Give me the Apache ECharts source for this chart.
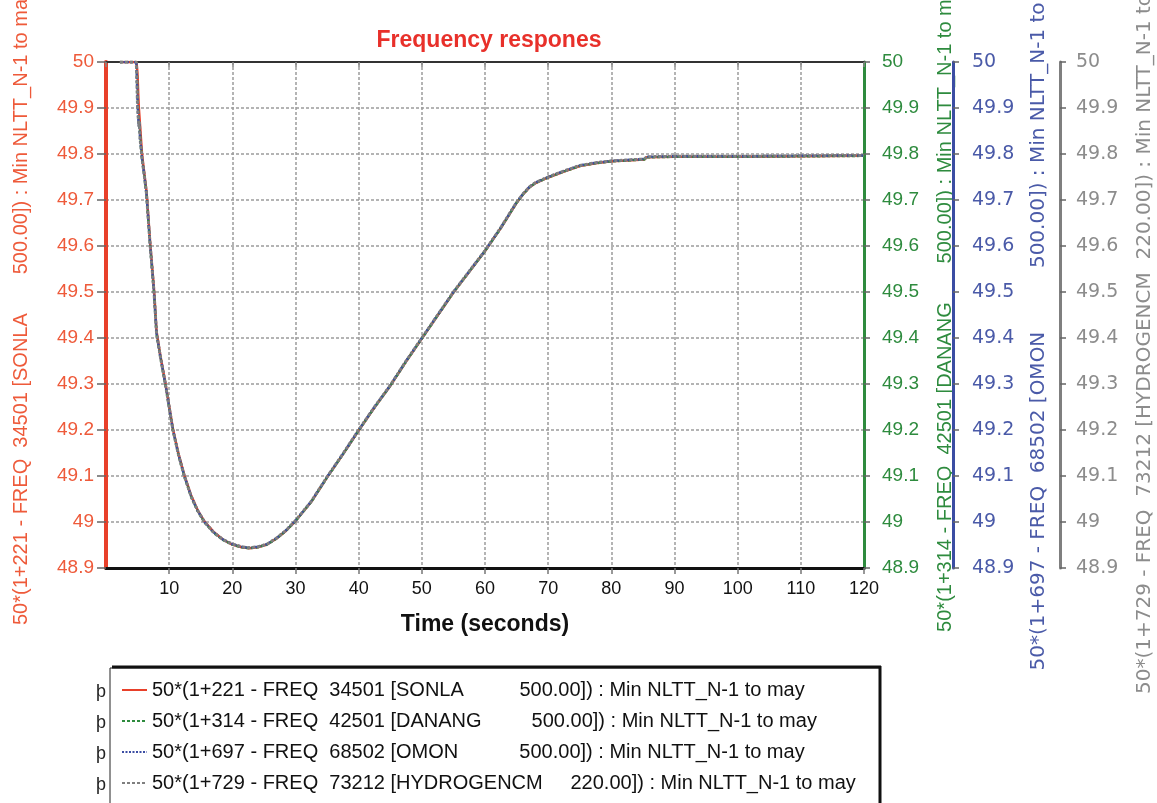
<!DOCTYPE html>
<html>
<head>
<meta charset="utf-8">
<script src="https://cdn.jsdelivr.net/npm/echarts@6/dist/echarts.min.js"></script>
<style>html,body{margin:0;padding:0;background:#fff}#c{width:1157px;height:803px}</style>
</head>
<body>
<div id="c"></div>
<script>
// ---- data ----
var titleText = 'Frequency respones';
var xAxisName = 'Time (seconds)';
var seriesNames = [
  '50*(1+221 - FREQ  34501 [SONLA          500.00]) : Min NLTT_N-1 to may',
  '50*(1+314 - FREQ  42501 [DANANG         500.00]) : Min NLTT_N-1 to may',
  '50*(1+697 - FREQ  68502 [OMON           500.00]) : Min NLTT_N-1 to may',
  '50*(1+729 - FREQ  73212 [HYDROGENCM     220.00]) : Min NLTT_N-1 to may'
];
var axisNames = [
  '50*(1+221 - FREQ  34501 [SONLA       500.00]) : Min NLTT_N-1 to may',
  '50*(1+314 - FREQ  42501 [DANANG       500.00]) : Min NLTT_N-1 to may',
  '50*(1+697 - FREQ  68502 [OMON          500.00]) : Min NLTT_N-1 to may',
  '50*(1+729 - FREQ  73212 [HYDROGENCM  220.00]) : Min NLTT_N-1 to may'
];
var timeSec = [2.2, 4.8, 4.9, 5.0, 5.1, 5.2, 5.3, 5.4, 5.5, 5.7, 6.0, 6.4, 7.0, 7.6, 8.0, 8.6, 9.4, 10.6, 11.5, 12.4, 13.5, 14.5, 15.6, 17.0, 18.5, 20.0, 21.5, 22.7, 24.0, 25.5, 27.0, 28.5, 30.0, 32.5, 35.0, 37.5, 40.0, 42.5, 45.0, 47.5, 50.0, 52.5, 55.0, 57.5, 60.0, 62.5, 65.0, 66.0, 67.0, 68.0, 70.0, 72.5, 75.0, 77.5, 80.0, 82.5, 85.2, 85.6, 90.0, 100.0, 110.0, 120.0];
var freqSonla = [50, 50, 49.99, 49.97, 49.93, 49.90, 49.88, 49.86, 49.84, 49.80, 49.765, 49.72, 49.605, 49.505, 49.415, 49.362, 49.302, 49.202, 49.147, 49.102, 49.057, 49.026, 49.001, 48.979, 48.962, 48.951, 48.945, 48.943, 48.945, 48.951, 48.964, 48.981, 49.002, 49.044, 49.097, 49.147, 49.199, 49.249, 49.296, 49.349, 49.399, 49.449, 49.499, 49.544, 49.589, 49.639, 49.694, 49.712, 49.727, 49.737, 49.749, 49.762, 49.774, 49.780, 49.784, 49.786, 49.788, 49.793, 49.794, 49.794, 49.795, 49.796];
var freqDanang = [50, 50, 49.97, 49.92, 49.89, 49.87, 49.87, 49.84, 49.82, 49.79, 49.76, 49.714, 49.599, 49.499, 49.409, 49.359, 49.299, 49.199, 49.144, 49.099, 49.054, 49.024, 48.999, 48.977, 48.961, 48.951, 48.945, 48.943, 48.945, 48.951, 48.964, 48.981, 49.002, 49.044, 49.097, 49.147, 49.199, 49.249, 49.296, 49.349, 49.399, 49.449, 49.499, 49.544, 49.589, 49.639, 49.694, 49.712, 49.727, 49.737, 49.749, 49.762, 49.774, 49.780, 49.784, 49.786, 49.788, 49.793, 49.794, 49.794, 49.795, 49.796];
var freqOmon = [50, 50, 49.96, 49.91, 49.88, 49.86, 49.87, 49.83, 49.82, 49.79, 49.76, 49.715, 49.60, 49.50, 49.41, 49.36, 49.30, 49.20, 49.145, 49.10, 49.055, 49.025, 49.00, 48.978, 48.962, 48.952, 48.946, 48.944, 48.946, 48.952, 48.965, 48.982, 49.003, 49.045, 49.098, 49.148, 49.200, 49.250, 49.297, 49.350, 49.400, 49.450, 49.500, 49.545, 49.590, 49.640, 49.695, 49.713, 49.728, 49.738, 49.750, 49.763, 49.775, 49.781, 49.785, 49.787, 49.789, 49.794, 49.795, 49.795, 49.796, 49.797];
var freqHydro = [50, 50, 49.95, 49.90, 49.88, 49.86, 49.87, 49.83, 49.82, 49.79, 49.76, 49.715, 49.60, 49.50, 49.41, 49.36, 49.30, 49.20, 49.145, 49.10, 49.055, 49.025, 49.00, 48.978, 48.962, 48.952, 48.946, 48.944, 48.946, 48.952, 48.965, 48.982, 49.003, 49.045, 49.098, 49.148, 49.200, 49.250, 49.297, 49.350, 49.400, 49.450, 49.500, 49.545, 49.590, 49.640, 49.695, 49.713, 49.728, 49.738, 49.750, 49.763, 49.775, 49.781, 49.785, 49.787, 49.789, 49.794, 49.795, 49.795, 49.796, 49.797];
var yMin = 48.9, yMax = 50, yStep = 0.1;
var xMin = 0, xMax = 120, xStep = 10;

// ---- chart ----
var FONT = '"Liberation Sans", Arial, sans-serif';
var VFONT = '"DejaVu Sans", Verdana, sans-serif';
var colors = ['#e8402a', '#2e8b3e', '#3b4da3', '#7f7f7f'];
var labelColors = ['#ee5a3a', '#2e8b3e', '#4a5aa8', '#8c8c8c'];
var lineTypes = ['solid', [3, 2], [2, 1.5], [3, 2]];

function pair(vals) { return timeSec.map(function (t, i) { return [t, vals[i]]; }); }
var allVals = [freqSonla, freqDanang, freqOmon, freqHydro];

var grid = {left: 106, right: 293, top: 62, bottom: 235, containLabel: false, outerBoundsMode: 'none'};
var splitLineStyle = {color: '#9c9c9c', width: 1.5, type: [3, 2]};

function yAxisDef(i) {
  var base = {
    type: 'value', min: yMin, max: yMax, interval: yStep,
    name: axisNames[i], nameLocation: 'middle', nameRotate: 90,
    axisLine: {show: true, onZero: false, lineStyle: {color: colors[i], width: i === 0 ? 4 : 3}},
    axisTick: {show: true, length: i === 0 ? 9 : 6, lineStyle: {color: '#666', width: 1.5}},
    axisLabel: {color: labelColors[i], fontSize: 19, fontFamily: i < 2 ? FONT : VFONT, margin: [12, 18, 19, 16][i]},
    splitLine: {show: i === 0, lineStyle: splitLineStyle}
  };
  if (i === 0) {
    base.position = 'left';
    base.nameGap = 75;
    base.nameTextStyle = {color: labelColors[0], fontSize: 20, fontFamily: FONT, padding: [0, 0, 0, 16]};
  } else {
    base.position = 'right';
    base.offset = [0, 0, 89, 196][i];
    base.nameGap = [0, 71, 76, 75][i];
    base.nameTextStyle = {color: labelColors[i], fontSize: 20, fontFamily: i === 1 ? FONT : VFONT,
      padding: [0, [0, 0, 0, 8][i], 0, [0, 20, 7, 0][i]]};
  }
  return base;
}

var rowY = [689, 720, 751, 782];
var graphics = [
  {type: 'rect', shape: {x: 110, y: 668, width: 770, height: 150}, style: {fill: '#fff', stroke: '#222', lineWidth: 1}, z: -1},
  {type: 'line', shape: {x1: 112, y1: 667, x2: 881, y2: 667}, style: {stroke: '#111', lineWidth: 3}},
  {type: 'line', shape: {x1: 880, y1: 666, x2: 880, y2: 803}, style: {stroke: '#111', lineWidth: 3}}
];
rowY.forEach(function (y) {
  graphics.push({type: 'text', x: 96, y: y + 3, style: {text: '\u00fe', fontSize: 18, fontFamily: FONT, fill: '#222', verticalAlign: 'middle'}});
});

var option = {
  backgroundColor: '#fff',
  animation: false,
  title: {text: titleText, left: 484, textAlign: 'center', top: 24,
    textStyle: {color: '#e8302a', fontSize: 23, fontWeight: 'bold', fontFamily: FONT}},
  grid: grid,
  legend: {
    orient: 'vertical', left: 121, top: 680, padding: 0, itemGap: 11, itemWidth: 25, itemHeight: 14,
    itemStyle: {opacity: 0},
    textStyle: {fontSize: 20, color: '#111', fontFamily: FONT, lineHeight: 20},
    data: seriesNames, selectedMode: false
  },
  xAxis: [
    {type: 'value', position: 'bottom', min: xMin, max: xMax, interval: xStep,
      name: xAxisName, nameLocation: 'middle', nameGap: 45,
      nameTextStyle: {color: '#111', fontSize: 23, fontWeight: 'bold', fontFamily: FONT},
      axisLine: {show: true, onZero: false, lineStyle: {color: '#111', width: 3}},
      axisTick: {show: true, length: 6, lineStyle: {color: '#777', width: 1.5}},
      axisLabel: {color: '#111', fontSize: 18, fontFamily: FONT, margin: 12, showMinLabel: false},
      splitLine: {show: true, lineStyle: splitLineStyle}},
    {type: 'value', position: 'top', min: xMin, max: xMax, interval: xStep,
      axisLine: {show: true, onZero: false, lineStyle: {color: '#333', width: 2}},
      axisTick: {show: true, inside: true, length: 5, lineStyle: {color: '#888', width: 1.5}},
      axisLabel: {show: false}, splitLine: {show: false}}
  ],
  yAxis: [yAxisDef(0), yAxisDef(1), yAxisDef(2), yAxisDef(3)],
  series: allVals.map(function (vals, i) {
    return {
      name: seriesNames[i], type: 'line', xAxisIndex: 0, yAxisIndex: i,
      data: pair(vals), symbol: 'none', showSymbol: false,
      lineStyle: {color: colors[i], width: i === 3 ? 3 : 2.5, type: lineTypes[i]},
      itemStyle: {color: colors[i]},
      z: 2 + i
    };
  }),
  graphic: graphics
};
var chart = echarts.init(document.getElementById('c'));
chart.setOption(option);
</script>
</body>
</html>
